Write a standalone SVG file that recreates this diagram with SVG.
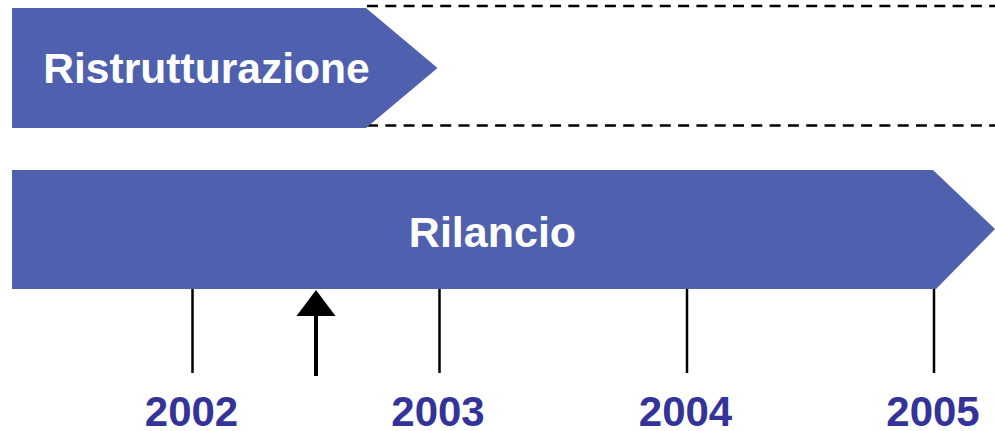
<svg xmlns="http://www.w3.org/2000/svg" width="995" height="431" viewBox="0 0 995 431">
<style>
.band{fill:#4F60AE;}
.lbl{font-family:"Liberation Sans",Arial,sans-serif;font-weight:bold;fill:#FFFFFF;text-anchor:middle;}
.year{font-family:"Liberation Sans",Arial,sans-serif;font-weight:bold;fill:#333399;font-size:42px;text-anchor:middle;}
.dash{stroke:#000;stroke-width:2.5;stroke-dasharray:11 7.3;fill:none;}
.tick{stroke:#000;stroke-width:2.5;fill:none;}
</style>
<rect width="995" height="431" fill="#FFFFFF"/>
<g id="connectors">
<line class="dash" x1="367" y1="6" x2="995" y2="6"/>
<line class="dash" x1="367" y1="125.5" x2="995" y2="125.5"/>
<line class="tick" x1="192.5" y1="286" x2="192.5" y2="373"/>
<line class="tick" x1="439.5" y1="286" x2="439.5" y2="373"/>
<line class="tick" x1="687" y1="286" x2="687" y2="373"/>
<line class="tick" x1="934" y1="286" x2="934" y2="373"/>
<line x1="316" y1="376" x2="316" y2="314" stroke="#000" stroke-width="4"/>
<polygon points="316,290 335.5,316 296.5,316" fill="#000"/>
</g>
<g id="ristrutturazione">
<polygon class="band" points="12,8 366,8 437.5,68 366,128 12,128"/>
<text class="lbl" x="206.5" y="83" font-size="42.6">Ristrutturazione</text>
</g>
<g id="rilancio">
<polygon class="band" points="12,170 933,170 995,229 936,289 12,289"/>
<text class="lbl" x="492.5" y="247" font-size="43">Rilancio</text>
</g>
<g id="years">
<text class="year" x="191.5" y="426">2002</text>
<text class="year" x="438" y="426">2003</text>
<text class="year" x="685.5" y="426">2004</text>
<text class="year" x="933" y="426">2005</text>
</g>
</svg>
